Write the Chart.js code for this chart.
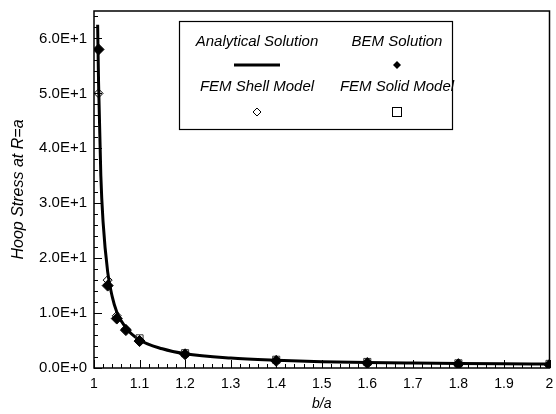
<!DOCTYPE html>
<html>
<head>
<meta charset="utf-8">
<script src="https://cdn.jsdelivr.net/npm/chart.js@4.4.0/dist/chart.umd.min.js"></script>
<style>
  html, body { margin:0; padding:0; background:#fff; }
  #wrap { width:556px; height:414px; }
</style>
</head>
<body>
<div id="wrap"><canvas id="c" width="556" height="414"></canvas></div>
<script>
// ── Data ────────────────────────────────────────
const analyticX = [1.008, 1.01, 1.015, 1.02, 1.03, 1.04, 1.05, 1.07, 1.1, 1.15, 1.2, 1.3, 1.4, 1.5, 1.6, 1.7, 1.8, 1.9, 2.0];
const analyticY = [62.5, 52, 35, 26.5, 17.5, 13, 10.2, 7.3, 5.1, 3.5, 2.6, 1.8, 1.4, 1.15, 1.0, 0.9, 0.82, 0.76, 0.72];

const bemX   = [1.01, 1.03, 1.05, 1.07, 1.1, 1.2, 1.4, 1.6, 1.8, 2.0];
const bemY   = [58, 15, 9, 6.9, 4.9, 2.5, 1.3, 0.9, 0.7, 0.6];

const shellX = [1.01, 1.03, 1.05, 1.07, 1.1];
const shellY = [50, 16, 9.5, 7.1, 5.1];

const solidX = [1.1, 1.2, 1.4, 1.6, 1.8, 2.0];
const solidY = [5.4, 2.7, 1.5, 1.1, 0.85, 0.75];

const LABELS = ['Analytical Solution', 'BEM Solution', 'FEM Shell Model', 'FEM Solid Model'];

const FONT = '"Liberation Sans", Arial, Helvetica, sans-serif';

const pts = (xs, ys) => xs.map((x, i) => ({ x, y: ys[i] }));

// ── Frame, inward ticks and boxed 2x2 legend ────
const decor = {
    id: 'decor',
    afterDraw(chart) {
        const { ctx, chartArea: a, scales: { x, y } } = chart;
        ctx.save();
        ctx.strokeStyle = '#000';
        ctx.lineWidth = 1.5;
        ctx.strokeRect(a.left, a.top, a.right - a.left, a.bottom - a.top);

        ctx.lineWidth = 1;
        ctx.beginPath();
        for (let v = 0; v <= 64; v += 2) {
            const py = Math.round(y.getPixelForValue(v)) + .5;
            const len = v % 10 === 0 ? 8 : 4;
            ctx.moveTo(a.left, py); ctx.lineTo(a.left + len, py);
        }
        for (let i = 0; i <= 50; i++) {
            const px = Math.round(x.getPixelForValue(1 + i * 0.02)) + .5;
            const len = i % 5 === 0 ? 8 : 4;
            ctx.moveTo(px, a.bottom); ctx.lineTo(px, a.bottom - len);
        }
        ctx.stroke();

        // legend box
        const L = 179, T = 21, R = 452, B = 129;
        ctx.fillStyle = '#fff';
        ctx.fillRect(L, T, R - L, B - T);
        ctx.lineWidth = 1.2;
        ctx.strokeRect(L + .5, T + .5, R - L, B - T);

        ctx.fillStyle = '#000';
        ctx.font = 'italic 15px ' + FONT;
        ctx.textAlign = 'center';
        ctx.textBaseline = 'middle';
        const cx = [257, 397], ty = [42, 87], sy = [65, 112];
        ctx.fillText(LABELS[0], cx[0], ty[0]);
        ctx.fillText(LABELS[1], cx[1], ty[0]);
        ctx.fillText(LABELS[2], cx[0], ty[1]);
        ctx.fillText(LABELS[3], cx[1], ty[1]);

        // line sample
        ctx.lineWidth = 3;
        ctx.beginPath();
        ctx.moveTo(234, sy[0]); ctx.lineTo(280, sy[0]);
        ctx.stroke();
        // filled diamond
        ctx.beginPath();
        ctx.moveTo(cx[1], sy[0] - 4); ctx.lineTo(cx[1] + 4, sy[0]);
        ctx.lineTo(cx[1], sy[0] + 4); ctx.lineTo(cx[1] - 4, sy[0]);
        ctx.closePath(); ctx.fill();
        // open diamond
        ctx.lineWidth = 1;
        ctx.beginPath();
        ctx.moveTo(cx[0], sy[1] - 4); ctx.lineTo(cx[0] + 4, sy[1]);
        ctx.lineTo(cx[0], sy[1] + 4); ctx.lineTo(cx[0] - 4, sy[1]);
        ctx.closePath(); ctx.stroke();
        // open square
        ctx.strokeRect(cx[1] - 4.5, sy[1] - 4.5, 9, 9);
        ctx.restore();
    }
};

new Chart(document.getElementById('c'), {
    type: 'scatter',
    data: {
        datasets: [
            {
                label: LABELS[1], data: pts(bemX, bemY),
                pointStyle: 'rectRot', pointRadius: 5.5,
                backgroundColor: '#000', borderColor: '#000', borderWidth: 1,
            },
            {
                label: LABELS[2], data: pts(shellX, shellY),
                pointStyle: 'rectRot', pointRadius: 4.5,
                backgroundColor: 'rgba(255,255,255,0)', borderColor: '#000', borderWidth: 1,
            },
            {
                label: LABELS[3], data: pts(solidX, solidY),
                pointStyle: 'rect', pointRadius: 5,
                backgroundColor: 'rgba(255,255,255,0)', borderColor: '#333', borderWidth: 1,
            },
            {
                label: LABELS[0], data: pts(analyticX, analyticY),
                showLine: true, pointRadius: 0,
                borderColor: '#000', borderWidth: 3,
                cubicInterpolationMode: 'monotone',
            },
        ],
    },
    options: {
        responsive: false,
        animation: false,
        layout: { padding: { top: 11, right: 2, left: 0, bottom: 0 } },
        plugins: {
            legend:  { display: false },
            tooltip: { enabled: false },
        },
        scales: {
            x: {
                type: 'linear', min: 1, max: 2,
                grid: { display: false, drawTicks: false },
                border: { display: false },
                ticks: {
                    stepSize: 0.1, padding: 8, color: '#000',
                    font: { family: FONT, size: 14 },
                    callback: v => (Math.round(v * 10) / 10).toString(),
                },
                title: {
                    display: true, text: 'b/a', color: '#000',
                    font: { family: FONT, size: 14, style: 'italic' },
                    padding: { top: 0, bottom: 1 },
                },
                afterFit: s => { s.height = 46; s.paddingLeft = 0; s.paddingRight = 0; },
            },
            y: {
                type: 'linear', min: 0, max: 65,
                grid: { display: false, drawTicks: false },
                border: { display: false },
                ticks: {
                    stepSize: 10, padding: 7, color: '#000', includeBounds: false,
                    font: { family: FONT, size: 15 },
                    callback: v => v.toExponential(1).replace('e', 'E'),
                },
                title: {
                    display: true, text: 'Hoop Stress at R=a', color: '#000',
                    font: { family: FONT, size: 16, style: 'italic' },
                    padding: { top: 9, bottom: 0 },
                },
                afterFit: s => { s.width = 94; s.paddingTop = 0; s.paddingBottom = 0; },
            },
        },
    },
    plugins: [decor],
});
</script>
</body>
</html>
